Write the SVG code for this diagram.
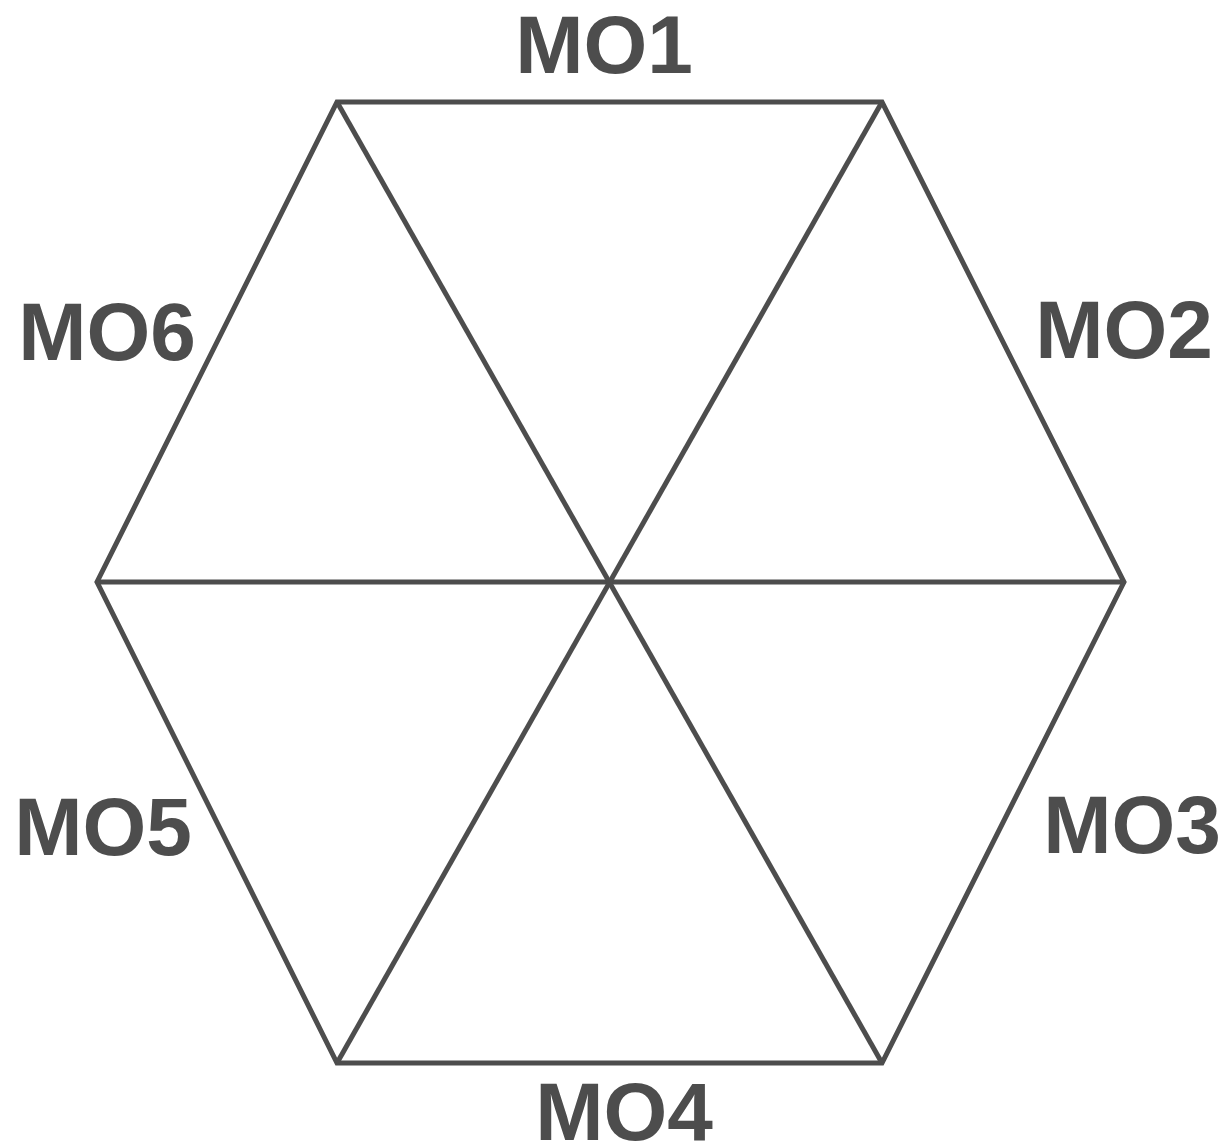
<svg xmlns="http://www.w3.org/2000/svg" width="1227" height="1143" viewBox="0 0 1227 1143">
<style>
.e{stroke:#4d4d4d;stroke-width:5;fill:none;stroke-linejoin:miter;stroke-linecap:butt}
.t{font-family:"Liberation Sans",Arial,sans-serif;font-weight:bold;font-size:82px;fill:#4d4d4d;text-anchor:middle}
</style>
<rect width="1227" height="1143" fill="#fff"/>
<g id="connectors">
<polygon class="e" points="337,102 882,102 1124,582 882,1063 337,1063 97,582"/>
<line class="e" x1="97" y1="582" x2="1124" y2="582"/>
<line class="e" x1="337" y1="102" x2="882" y2="1063"/>
<line class="e" x1="882" y1="102" x2="337" y2="1063"/>
</g>
<g id="MO1"><text class="t" x="604" y="73">MO1</text></g>
<g id="MO2"><text class="t" x="1124" y="358">MO2</text></g>
<g id="MO3"><text class="t" x="1132" y="853">MO3</text></g>
<g id="MO4"><text class="t" x="624" y="1140">MO4</text></g>
<g id="MO5"><text class="t" x="103" y="855">MO5</text></g>
<g id="MO6"><text class="t" x="107" y="360">MO6</text></g>
</svg>
